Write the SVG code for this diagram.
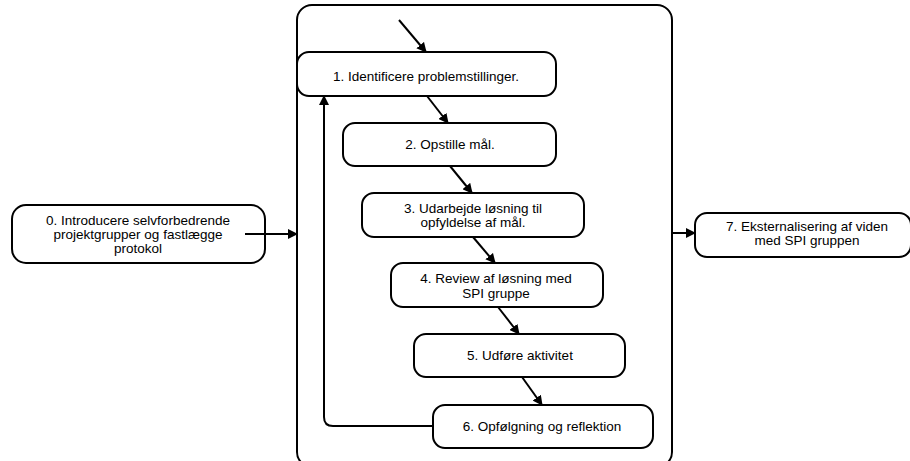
<svg xmlns="http://www.w3.org/2000/svg" width="910" height="461" viewBox="0 0 910 461">
<defs>
<style>
.box{fill:#fff;stroke:#000;stroke-width:2}
.t{font-family:"Liberation Sans",Arial,sans-serif;font-size:13.5px;fill:#000;text-anchor:middle}
.c{fill:none;stroke:#000;stroke-width:2}
</style>
<marker id="ah" markerWidth="10" markerHeight="10" refX="9" refY="5" orient="auto" markerUnits="userSpaceOnUse">
<path d="M0,0 L10,5 L0,10 z" fill="#000"/>
</marker>
</defs>
<rect width="910" height="461" fill="#fff"/>
<g id="container"><rect class="box" x="297" y="5" width="375" height="462" rx="15"/></g>
<g id="n0"><rect class="box" x="12" y="205" width="253" height="58" rx="14"/>
<text class="t" x="138" y="225">0. Introducere selvforbedrende</text>
<text class="t" x="138" y="239">projektgrupper og fastlægge</text>
<text class="t" x="138" y="253">protokol</text></g>
<g id="n1"><rect class="box" x="297" y="52" width="259" height="44" rx="12"/><text class="t" x="426" y="81">1. Identificere problemstillinger.</text></g>
<g id="n2"><rect class="box" x="343" y="123" width="213" height="43" rx="12"/><text class="t" x="450" y="149">2. Opstille mål.</text></g>
<g id="n3"><rect class="box" x="362" y="193" width="222" height="44" rx="12"/><text class="t" x="473" y="213">3. Udarbejde løsning til</text><text class="t" x="473" y="227">opfyldelse af mål.</text></g>
<g id="n4"><rect class="box" x="391" y="263" width="212" height="44" rx="12"/><text class="t" x="496" y="283">4. Review af løsning med</text><text class="t" x="496" y="298">SPI gruppe</text></g>
<g id="n5"><rect class="box" x="414" y="334" width="211" height="43" rx="12"/><text class="t" x="520" y="360">5. Udføre aktivitet</text></g>
<g id="n6"><rect class="box" x="433" y="405" width="220" height="43" rx="12"/><text class="t" x="542" y="431">6. Opfølgning og reflektion</text></g>
<g id="n7"><rect class="box" x="695" y="213" width="216" height="44" rx="12"/><text class="t" x="807" y="231">7. Eksternalisering af viden</text><text class="t" x="807" y="245">med SPI gruppen</text></g>
<g id="connectors">
<line class="c" x1="245" y1="234" x2="297" y2="234" marker-end="url(#ah)"/>
<line class="c" x1="672" y1="233" x2="695" y2="233" marker-end="url(#ah)"/>
<line class="c" x1="399" y1="20" x2="426" y2="52" marker-end="url(#ah)"/>
<line class="c" x1="427" y1="96" x2="448" y2="123" marker-end="url(#ah)"/>
<line class="c" x1="450" y1="166" x2="472" y2="193" marker-end="url(#ah)"/>
<line class="c" x1="473" y1="237" x2="495" y2="263" marker-end="url(#ah)"/>
<line class="c" x1="498" y1="307" x2="519" y2="334" marker-end="url(#ah)"/>
<line class="c" x1="522" y1="377" x2="542" y2="405" marker-end="url(#ah)"/>
<path class="c" d="M433,426 L333,426 Q324,426 324,417 L324,96" marker-end="url(#ah)"/>
</g>
</svg>
